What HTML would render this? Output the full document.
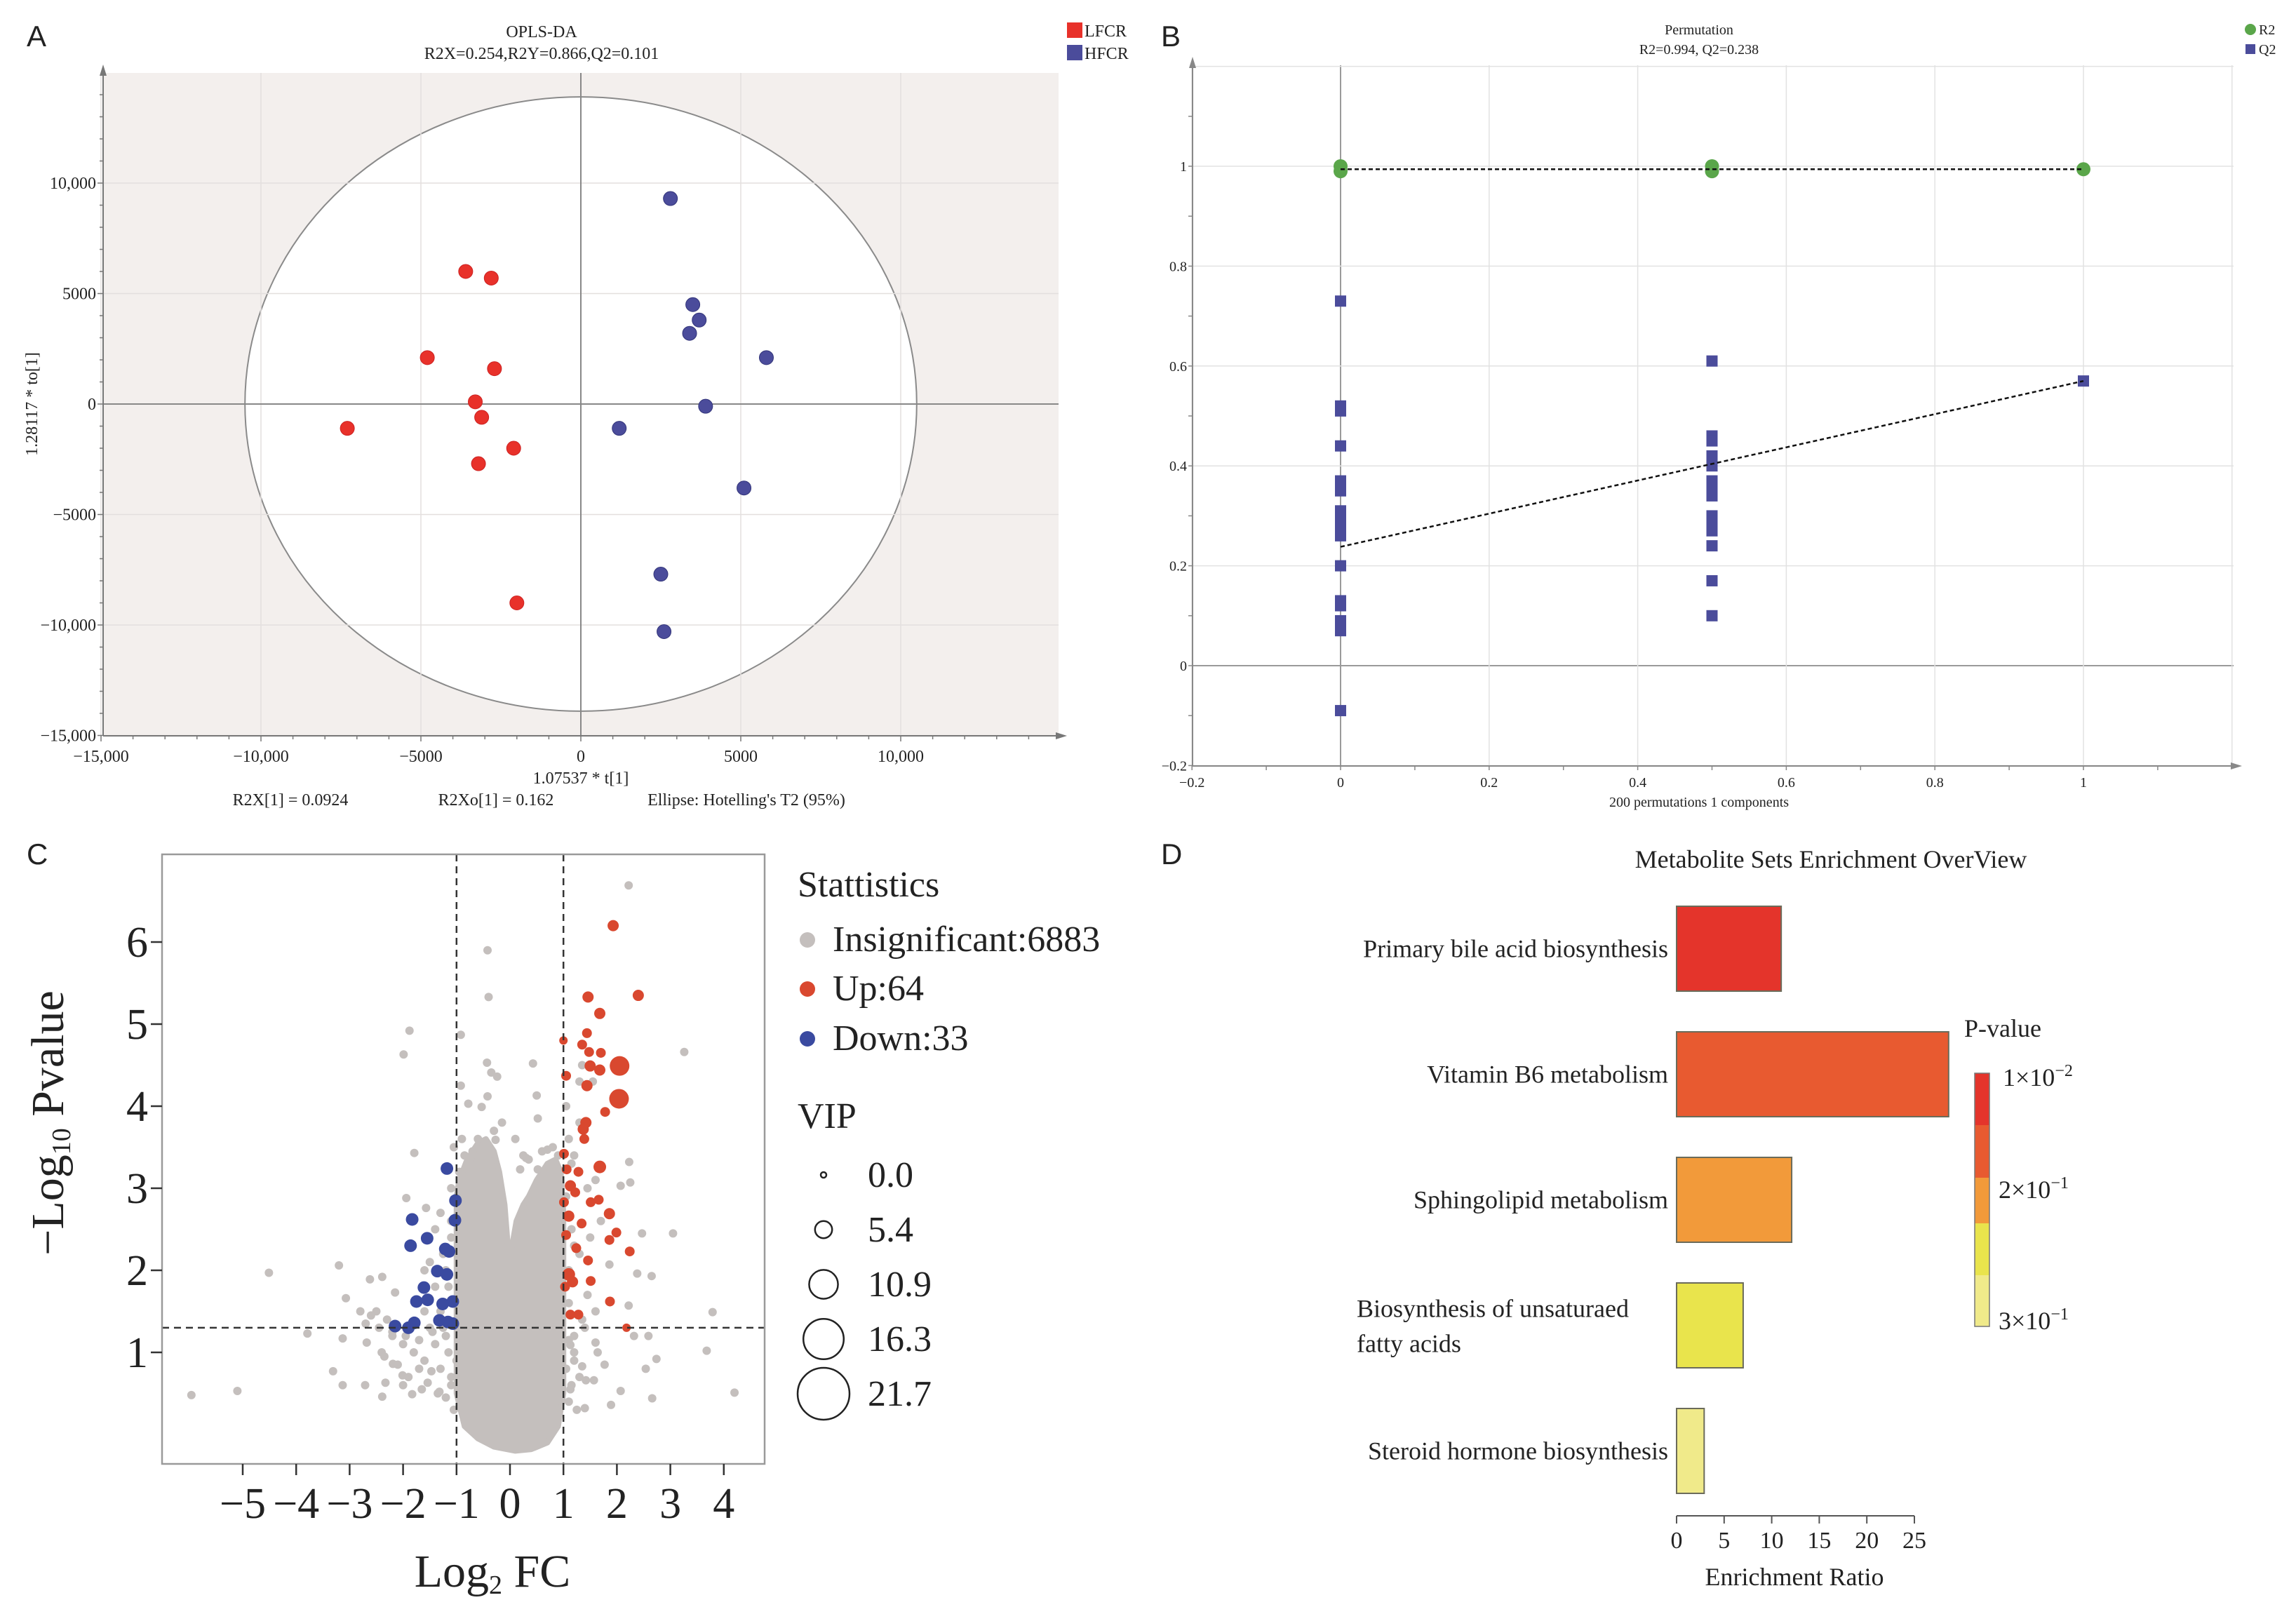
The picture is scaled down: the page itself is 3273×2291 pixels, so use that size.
<!DOCTYPE html>
<html><head><meta charset="utf-8"><title>Metabolomics figure</title>
<style>
html,body{margin:0;padding:0;background:#fff;}
svg{display:block;}
text{font-family:"Liberation Serif",serif;fill:#222;}
.lbl{font-family:"Liberation Sans",sans-serif;}
</style></head>
<body>
<svg id="fig" xmlns="http://www.w3.org/2000/svg" width="3273" height="2291" viewBox="0 0 3273 2291">
<rect x="0" y="0" width="3273" height="2291" fill="#fff"/>
<text class="lbl" x="38" y="66" font-size="42">A</text>
<text class="lbl" x="1655" y="66" font-size="42">B</text>
<text class="lbl" x="38" y="1232" font-size="42">C</text>
<text class="lbl" x="1655" y="1232" font-size="42">D</text>

<g id="pa">
<text x="772" y="53" font-size="24" text-anchor="middle">OPLS-DA</text>
<text x="772" y="84" font-size="24" text-anchor="middle">R2X=0.254,R2Y=0.866,Q2=0.101</text>
<rect x="1521" y="32" width="22" height="22" fill="#e8312a"/>
<text x="1546" y="52" font-size="24">LFCR</text>
<rect x="1521" y="64" width="22" height="22" fill="#4b4c9b"/>
<text x="1546" y="84" font-size="24">HFCR</text>
<text x="828" y="1117" font-size="24" text-anchor="middle">1.07537 * t[1]</text>
<text x="414" y="1148" font-size="24" text-anchor="middle">R2X[1] = 0.0924</text>
<text x="707" y="1148" font-size="24" text-anchor="middle">R2Xo[1] = 0.162</text>
<text x="1064" y="1148" font-size="24" text-anchor="middle">Ellipse: Hotelling's T2 (95%)</text>
<text x="0" y="0" font-size="24" text-anchor="middle" transform="translate(53,576) rotate(-90)">1.28117 * to[1]</text>
</g>

<g id="pb">
<text x="2422" y="49" font-size="20" text-anchor="middle">Permutation</text>
<text x="2422" y="77" font-size="20" text-anchor="middle">R2=0.994, Q2=0.238</text>
<circle cx="3208" cy="42" r="8" fill="#5aa64a"/>
<text x="3220" y="49" font-size="20">R2</text>
<rect x="3201" y="63" width="14" height="14" fill="#4b4c9b"/>
<text x="3220" y="77" font-size="20">Q2</text>
<text x="2422" y="1150" font-size="20" text-anchor="middle">200 permutations 1 components</text>
</g>

<g id="pc">
<text x="0" y="0" font-size="66" text-anchor="middle" transform="translate(90,1601) rotate(-90)">−Log<tspan font-size="38" dy="10">10</tspan><tspan dy="-10"> Pvalue</tspan></text>
<text x="702" y="2262" font-size="66" text-anchor="middle">Log<tspan font-size="38" dy="10">2</tspan><tspan dy="-10"> FC</tspan></text>
<text x="1137" y="1278" font-size="52">Stattistics</text>
<circle cx="1151" cy="1340" r="11" fill="#c4bfbd"/>
<text x="1187" y="1356" font-size="52">Insignificant:6883</text>
<circle cx="1151" cy="1410" r="11" fill="#d9482f"/>
<text x="1187" y="1426" font-size="52">Up:64</text>
<circle cx="1151" cy="1481" r="11" fill="#3a4aa0"/>
<text x="1187" y="1497" font-size="52">Down:33</text>
<text x="1137" y="1608" font-size="52">VIP</text>
</g>

<g id="pd">
<text x="2610" y="1237" font-size="36" text-anchor="middle">Metabolite Sets Enrichment OverView</text>
<text x="2558" y="2260" font-size="36" text-anchor="middle">Enrichment Ratio</text>
<text x="2800" y="1478" font-size="36">P-value</text>
<text x="2855" y="1548" font-size="36">1×10<tspan font-size="24" dy="-14">−2</tspan></text>
<text x="2849" y="1708" font-size="36">2×10<tspan font-size="24" dy="-14">−1</tspan></text>
<text x="2849" y="1895" font-size="36">3×10<tspan font-size="24" dy="-14">−1</tspan></text>
</g>
</svg>

<script>
const aRedX = [-3600, -2800, -4800, -2700, -3300, -3100, -7300, -2100, -3200, -2000];
const aRedY = [6000, 5700, 2100, 1600, 100, -600, -1100, -2000, -2700, -9000];
const aBlueX = [2800, 3500, 3700, 3400, 5800, 3900, 1200, 5100, 2500, 2600];
const aBlueY = [9300, 4500, 3800, 3200, 2100, -100, -1100, -3800, -7700, -10300];
const aXTicks = [-15000, -10000, -5000, 0, 5000, 10000];
const aXTickLabels = ["−15,000", "−10,000", "−5000", "0", "5000", "10,000"];
const aYTicks = [10000, 5000, 0, -5000, -10000, -15000];
const aYTickLabels = ["10,000", "5000", "0", "−5000", "−10,000", "−15,000"];
const aEllipseRx = 10500;
const aEllipseRy = 13900;

const bR2X = [0, 0, 0.5, 0.5, 1];
const bR2Y = [0.99, 1.0, 0.99, 1.0, 0.994];
const bQ2X = [0,0,0,0,0,0,0,0,0,0,0,0,0,0,0,0, 0.5,0.5,0.5,0.5,0.5,0.5,0.5,0.5,0.5,0.5,0.5,0.5,0.5,0.5, 1];
const bQ2Y = [0.73,0.52,0.51,0.44,0.37,0.35,0.31,0.30,0.28,0.26,0.20,0.13,0.12,0.09,0.07,-0.09, 0.61,0.46,0.45,0.42,0.40,0.37,0.35,0.34,0.30,0.29,0.27,0.24,0.17,0.10, 0.57];
const bR2Line = [0.994, 0.994];
const bQ2Line = [0.238, 0.57];
const bTicks = [-0.2, 0, 0.2, 0.4, 0.6, 0.8, 1];
const bTickLabels = ["−0.2", "0", "0.2", "0.4", "0.6", "0.8", "1"];

const cUpX = [1.93,1.46,2.40,1.68,1.0,1.44,1.35,1.48,1.70,2.05,1.5,1.68,1.05,1.44,2.04,1.78,1.42,1.37,1.39,1.01,1.68,1.06,1.28,1.13,1.22,1.51,1.66,1.01,1.1,1.34,1.86,1.05,1.99,1.86,1.24,2.24,1.46,1.1,1.17,1.51,1.03,1.87,1.28,1.13,2.18];
const cUpY = [6.2,5.33,5.35,5.13,4.8,4.89,4.75,4.66,4.65,4.49,4.49,4.44,4.37,4.25,4.09,3.93,3.8,3.72,3.6,3.42,3.26,3.23,3.2,3.03,2.95,2.83,2.86,2.83,2.66,2.57,2.69,2.43,2.46,2.37,2.27,2.23,2.12,1.95,1.86,1.87,1.8,1.62,1.46,1.46,1.3];
const cUpVip = [8,8,8,8,6,7,7,7,7,14,8,8,7,8,14,7,8,8,7,7,9,7,7,8,7,7,7,7,8,7,8,7,7,7,7,7,7,9,8,7,7,7,7,7,6];
const cDownX = [-1.18,-1.02,-1.83,-1.03,-1.55,-1.86,-1.21,-1.14,-1.36,-1.18,-1.61,-1.75,-1.54,-1.07,-1.26,-1.79,-1.32,-1.16,-2.15,-1.9,-1.07];
const cDownY = [3.24,2.85,2.62,2.61,2.39,2.3,2.26,2.23,1.99,1.95,1.79,1.62,1.64,1.62,1.59,1.36,1.39,1.37,1.32,1.3,1.35];
const cGrayX = [2.22,-0.42,-0.4,-1.88,-1.99,-0.92,3.26,-0.43,-0.35,-0.24,0.43,-0.92,-0.42,0.5,-0.78,-0.53,0.52,-1.79,-0.49,-0.27,-0.74,-0.42,0.7,0.3,0.52,0.19,2.23,2.25,2.07,-1.94,-1.57,2.47,3.05,-3.2,-4.51,2.38,2.65,-2.62,-2.39,-2.15,1.86,-3.07,2.22,3.79,-3.79,-3.13,-2.68,2.32,2.59,3.68,1.77,2.74,2.54,-3.31,-3.13,-2.71,-2.33,-2.39,-1.83,-5.96,-5.1,2.07,2.66,4.2,1.4,1.89,1.42,1.35,1.57,-2.19,-2.01,-1.54,-1.32,-1.47,1.13,1.6,1.64,1.13,
 -2.5,-2.3,-2.6,-2.8,-2.0,-1.8,-1.6,-1.4,-1.2,-2.2,-1.7,-1.3,-1.1,-1.5,-1.3,-1.4,-1.2,-1.5,-1.1,-1.3,-1.1,-1.05,-0.9,-2.4,-2.0,-1.9,-1.6,-1.0,-1.05,
 1.1,1.05,1.2,1.3,1.15,1.3,1.2,1.1,1.05,1.3,1.35,1.55,1.2,1.4,1.6,1.7,1.5,1.45,1.6,
 -2.7,-2.45,-2.2,-1.95,-1.7,-1.45,-1.25,-1.15,-1.1,-1.2,-1.35,-1.65,-1.9,-2.1,-2.35,-1.15,-1.25,-1.1,-1.4,-1.6,-0.95,-0.85,-0.7,-0.6,-0.3,-0.15,0.1,0.25,0.35,0.6,0.8,0.9,1.1,1.2,1.15,1.25,1.35,1.1,1.2,1.45,1.05,1.15,1.3,1.1];
const cGrayY = [6.69,5.9,5.33,4.92,4.63,4.87,4.66,4.53,4.41,4.36,4.52,4.25,4.12,4.13,4.03,3.99,3.85,3.43,3.55,3.59,3.37,3.37,3.47,3.37,3.23,3.23,3.32,3.07,3.03,2.88,2.76,2.45,2.45,2.06,1.97,1.96,1.93,1.89,1.92,1.73,2.07,1.66,1.57,1.49,1.23,1.17,1.12,1.2,1.2,1.02,0.85,0.92,0.8,0.77,0.6,0.6,0.63,0.46,0.49,0.48,0.53,0.53,0.44,0.51,0.32,0.36,0.66,0.83,0.66,0.86,0.72,0.63,0.52,0.77,1.09,1.12,1.0,0.55,
 1.5,1.4,1.45,1.5,1.1,1.0,0.9,1.1,1.2,1.2,0.8,0.8,0.7,1.3,1.5,1.8,2.0,2.1,2.4,2.7,3.0,3.5,3.6,1.0,0.6,1.3,1.5,0.9,0.3,
 0.4,0.8,1.0,0.7,2.5,2.2,3.4,3.6,4.0,4.3,4.5,4.3,1.2,1.3,1.5,2.6,2.4,3.0,3.1,
 1.35,1.3,1.25,1.2,1.15,1.25,1.3,1.0,0.6,0.45,0.5,0.55,0.7,0.85,0.95,1.8,2.2,2.6,2.5,2.0,3.2,3.4,3.45,3.6,3.7,3.8,3.6,3.4,3.35,3.45,3.5,3.4,1.15,0.9,0.6,0.3,1.4,2.0,2.3,1.7,2.9,3.3,3.8,1.6];
const cBlobX = [-0.85,-1.0,-1.0,-1.0,-1.0,-0.95,-0.8,-0.6,-0.45,-0.3,-0.2,-0.1,-0.04,0.0,0.04,0.12,0.25,0.35,0.5,0.7,0.85,0.95,1.0,1.0,1.0,0.9,0.7,0.4,0.1,-0.3,-0.6];
const cBlobY = [0.1,0.5,1.5,2.4,2.9,3.1,3.35,3.55,3.6,3.45,3.2,2.8,2.3,1.1,2.3,2.6,2.8,2.9,3.1,3.3,3.35,3.2,2.7,1.5,0.5,0.1,-0.1,-0.18,-0.2,-0.15,-0.05];
const cXTicks = [-5,-4,-3,-2,-1,0,1,2,3,4];
const cXTickLabels = ["−5","−4","−3","−2","−1","0","1","2","3","4"];
const cYTicks = [1,2,3,4,5,6];
const cYTickLabels = ["1","2","3","4","5","6"];
const cVipLabels = ["0.0","5.4","10.9","16.3","21.7"];
const cVipValues = [0.0,5.4,10.9,16.3,21.7];
const cFcCut = [-1, 1];
const cPCut = [1.3];

const dCategories = ["Primary bile acid biosynthesis","Vitamin B6 metabolism","Sphingolipid metabolism","Biosynthesis of unsaturaed fatty acids","Steroid hormone biosynthesis"];
const dRatios = [11.0, 28.6, 12.1, 7.0, 2.9];
const dPvalues = [0.005, 0.05, 0.18, 0.28, 0.32];
const dTicks = [0,5,10,15,20,25];
const dTickLabels = ["0","5","10","15","20","25"];

const NS = "http://www.w3.org/2000/svg";
function mk(tag, attrs, parent){
  const e = document.createElementNS(NS, tag);
  for (const k in attrs) e.setAttribute(k, attrs[k]);
  (parent || document.getElementById('fig')).appendChild(e);
  return e;
}

(function(){
  const g = document.getElementById('pa');
  const sx = v => 828 + v * 0.0456;
  const sy = v => 576 - v * 0.0315;
  const L = 147, R = 1509, T = 104, B = 1049;
  let e = mk('rect', {x:L, y:T, width:R-L, height:B-T, fill:'#f3efed'}, g);
  
  
  e = mk('ellipse', {cx:sx(0), cy:sy(0), rx:aEllipseRx*0.0456, ry:aEllipseRy*0.0315, fill:'#fff', stroke:'#8a8a8a', 'stroke-width':2}, g);
  
  
  aXTicks.forEach((t, i) => {
    const l = mk('line', {x1:sx(t), x2:sx(t), y1:T, y2:B, stroke:'#e3dfde', 'stroke-width':1.5}, g);
    
    
    const tx = mk('text', {x:sx(t), y:1086, 'font-size':24, 'text-anchor':'middle'}, g);
    tx.textContent = aXTickLabels[i];
    
    
  });
  aYTicks.forEach((t, i) => {
    const l = mk('line', {x1:L, x2:R, y1:sy(t), y2:sy(t), stroke:'#e3dfde', 'stroke-width':1.5}, g);
    
    
    const tx = mk('text', {x:137, y:sy(t)+8, 'font-size':24, 'text-anchor':'end'}, g);
    tx.textContent = aYTickLabels[i];
    
    
  });
  for (let v = -15000; v <= 14000; v += 1000) {
    const m = mk('line', {x1:sx(v), x2:sx(v), y1:B, y2:B+(v%5000===0?8:5), stroke:'#777', 'stroke-width':1.5}, g);
    
    
    const n = mk('line', {x1:L-(v%5000===0?8:5), x2:L, y1:sy(v), y2:sy(v), stroke:'#777', 'stroke-width':1.5}, g);
    
    
  }
  e = mk('line', {x1:sx(0), x2:sx(0), y1:T, y2:B, stroke:'#888', 'stroke-width':2}, g);
  
  
  e = mk('line', {x1:L, x2:R, y1:sy(0), y2:sy(0), stroke:'#888', 'stroke-width':2}, g);
  
  
  e = mk('path', {d:`M${L} ${B} L${R} ${B} M${L} ${B} L${L} ${T}`, stroke:'#777', 'stroke-width':2, fill:'none'}, g);
  
  
  e = mk('path', {d:`M${R+12} ${B} L${R-4} ${B-5} L${R-4} ${B+5}Z M${L} ${T-12} L${L-5} ${T+4} L${L+5} ${T+4}Z`, fill:'#777'}, g);
  
  
  aRedX.forEach((x, i) => {
    const c = mk('circle', {cx:sx(x), cy:sy(aRedY[i]), r:10, fill:'#e8312a', stroke:'#c22', 'stroke-width':1}, g);
    
    
  });
  aBlueX.forEach((x, i) => {
    const c = mk('circle', {cx:sx(x), cy:sy(aBlueY[i]), r:10, fill:'#4b4c9b', stroke:'#33357a', 'stroke-width':1}, g);
    
    
  });
})();

(function(){
  const g = document.getElementById('pb');
  const sx = v => 1911 + v * 1059;
  const sy = v => 949 - v * 712;
  const L = 1700, R = 3184, T = 93, B = 1092;
  const grid = [-0.2,0,0.2,0.4,0.6,0.8,1,1.2];
  grid.forEach(t => {
    const l = mk('line', {x1:sx(t), x2:sx(t), y1:T, y2:B, stroke:(t===0?'#9a9a9a':'#e2e2e2'), 'stroke-width':(t===0?2:1.5)}, g);
    
    
    const h = mk('line', {x1:L, x2:R, y1:sy(t), y2:sy(t), stroke:(t===0?'#9a9a9a':'#e2e2e2'), 'stroke-width':(t===0?2:1.5)}, g);
    
    
  });
  for (let v = -0.2; v <= 1.15; v += 0.1) {
    const m = mk('line', {x1:sx(v), x2:sx(v), y1:B, y2:B+6, stroke:'#888', 'stroke-width':1.5}, g);
    
    
    const n = mk('line', {x1:L-6, x2:L, y1:sy(v), y2:sy(v), stroke:'#888', 'stroke-width':1.5}, g);
    
    
  }
  bTicks.forEach((t, i) => {
    const tx = mk('text', {x:sx(t), y:1122, 'font-size':20, 'text-anchor':'middle'}, g);
    tx.textContent = bTickLabels[i];
    
    
    const ty = mk('text', {x:1692, y:sy(t)+7, 'font-size':20, 'text-anchor':'end'}, g);
    ty.textContent = bTickLabels[i];
    
    
  });
  let e = mk('path', {d:`M${L} ${B} L${R} ${B} M${L} ${B} L${L} ${T}`, stroke:'#888', 'stroke-width':2, fill:'none'}, g);
  
  
  e = mk('path', {d:`M${R+12} ${B} L${R-4} ${B-5} L${R-4} ${B+5}Z M${L} ${T-12} L${L-5} ${T+4} L${L+5} ${T+4}Z`, fill:'#888'}, g);
  
  
  bQ2X.forEach((x, i) => {
    const r = mk('rect', {x:sx(x)-8, y:sy(bQ2Y[i])-8, width:16, height:16, fill:'#4b4c9b'}, g);
    
    
  });
  bR2X.forEach((x, i) => {
    const c = mk('circle', {cx:sx(x), cy:sy(bR2Y[i]), r:10, fill:'#5aa64a'}, g);
    
    
  });
  e = mk('line', {x1:sx(0), y1:sy(bR2Line[0]), x2:sx(1), y2:sy(bR2Line[1]), stroke:'#111', 'stroke-width':2.5, 'stroke-dasharray':'6 4'}, g);
  
  
  e = mk('line', {x1:sx(0), y1:sy(bQ2Line[0]), x2:sx(1), y2:sy(bQ2Line[1]), stroke:'#111', 'stroke-width':2.5, 'stroke-dasharray':'6 4'}, g);
  
  
})();

(function(){
  const g = document.getElementById('pc');
  const sx = v => 727 + v * 76.2;
  const sy = v => 2045 - v * 117;
  const L = 231, R = 1090, T = 1218, B = 2087;
  const vipR = v => 4 + v * 1.52;
  let d = '';
  cBlobX.forEach((x, i) => { d += (i ? ' L' : 'M') + sx(x).toFixed(1) + ' ' + sy(cBlobY[i]).toFixed(1); });
  let e = mk('path', {d:d + ' Z', fill:'#c4bfbd', stroke:'#c4bfbd', 'stroke-width':8, 'stroke-linejoin':'round'}, g);
  
  
  cGrayX.forEach((x, i) => {
    const c = mk('circle', {cx:sx(x), cy:sy(cGrayY[i]), r:6, fill:'#c4bfbd'}, g);
    
    
  });
  cDownX.forEach((x, i) => {
    const c = mk('circle', {cx:sx(x), cy:sy(cDownY[i]), r:9, fill:'#3a4aa0'}, g);
    
    
  });
  cUpX.forEach((x, i) => {
    const c = mk('circle', {cx:sx(x), cy:sy(cUpY[i]), r:cUpVip[i], fill:'#d9482f'}, g);
    
    
  });
  cFcCut.forEach(v => {
    const l = mk('line', {x1:sx(v), x2:sx(v), y1:T, y2:B, stroke:'#333', 'stroke-width':2.5, 'stroke-dasharray':'10 7'}, g);
    
    
  });
  e = mk('line', {x1:L, x2:R, y1:sy(cPCut[0]), y2:sy(cPCut[0]), stroke:'#333', 'stroke-width':2.5, 'stroke-dasharray':'10 7'}, g);
  
  
  e = mk('rect', {x:L, y:T, width:R-L, height:B-T, fill:'none', stroke:'#9a9a9a', 'stroke-width':2.5}, g);
  
  
  cXTicks.forEach((t, i) => {
    const m = mk('line', {x1:sx(t), x2:sx(t), y1:B, y2:B+16, stroke:'#333', 'stroke-width':2.5}, g);
    
    
    const tx = mk('text', {x:sx(t), y:2164, 'font-size':62, 'text-anchor':'middle'}, g);
    tx.textContent = cXTickLabels[i];
    
    
  });
  cYTicks.forEach((t, i) => {
    const m = mk('line', {x1:L-16, x2:L, y1:sy(t), y2:sy(t), stroke:'#333', 'stroke-width':2.5}, g);
    
    
    const ty = mk('text', {x:L-20, y:sy(t)+21, 'font-size':62, 'text-anchor':'end'}, g);
    ty.textContent = cYTickLabels[i];
    
    
  });
  cVipValues.forEach((v, i) => {
    const cy = 1675 + i * 78;
    const c = mk('circle', {cx:1174, cy:cy, r:vipR(v), fill:'none', stroke:'#222', 'stroke-width':2.5}, g);
    
    
    const t = mk('text', {x:1237, y:cy+17, 'font-size':52}, g);
    t.textContent = cVipLabels[i];
    
    
  });
})();

(function(){
  const g = document.getElementById('pd');
  const sx = v => 2390 + v * 13.56;
  const barTop = i => 1292 + i * 179;
  const H = 121;
  const pColor = p => p < 0.02 ? '#e4342b' : p < 0.1 ? '#e85a30' : p < 0.2 ? '#f29a3a' : p < 0.3 ? '#e9e44c' : '#f0ea8a';
  dRatios.forEach((v, i) => {
    const r = mk('rect', {x:sx(0), y:barTop(i), width:sx(v)-sx(0), height:H, fill:pColor(dPvalues[i]), stroke:'#6b6b5a', 'stroke-width':2}, g);
    
    
    const cat = dCategories[i];
    if (cat.length > 32) {
      const cut = cat.lastIndexOf(' ', 27);
      const t1 = mk('text', {x:1934, y:barTop(i)+H/2-12, 'font-size':36}, g);
      t1.textContent = cat.slice(0, cut);
      
      
      const t2 = mk('text', {x:1934, y:barTop(i)+H/2+38, 'font-size':36}, g);
      t2.textContent = cat.slice(cut + 1);
      
      
    } else {
      const t = mk('text', {x:2378, y:barTop(i)+H/2+12, 'font-size':36, 'text-anchor':'end'}, g);
      t.textContent = cat;
      
      
    }
  });
  let e = mk('line', {x1:sx(0), x2:sx(25), y1:2161, y2:2161, stroke:'#555', 'stroke-width':2}, g);
  
  
  dTicks.forEach((t, i) => {
    const m = mk('line', {x1:sx(t), x2:sx(t), y1:2161, y2:2172, stroke:'#555', 'stroke-width':2}, g);
    
    
    const tx = mk('text', {x:sx(t), y:2207, 'font-size':34, 'text-anchor':'middle'}, g);
    tx.textContent = dTickLabels[i];
    
    
  });
  const segCols = ['#e4342b', '#e85a30', '#f29a3a', '#e9e44c', '#f0ea8a'];
  const segY = [1530, 1604, 1679, 1744, 1818, 1891];
  segCols.forEach((c, i) => {
    const r = mk('rect', {x:2815, y:segY[i], width:21, height:segY[i+1]-segY[i], fill:c}, g);
    
    
  });
  e = mk('rect', {x:2815, y:1530, width:21, height:361, fill:'none', stroke:'#777', 'stroke-width':1.5}, g);
  
  
})();
</script>
</body></html>
